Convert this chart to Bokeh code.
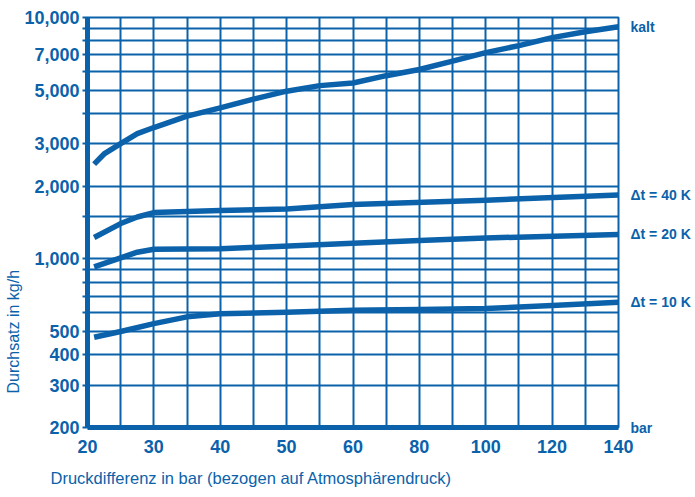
import numpy as np
from bokeh.plotting import figure
from bokeh.models import FixedTicker, Range1d, LogAxis, Title
from bokeh.embed import file_html
from bokeh.resources import INLINE

# ---- data ----
druck_kalt = [21, 22.5, 25, 27.5, 30, 35, 40, 45, 50, 55, 60, 70, 80, 90, 100, 110, 120, 130, 140]
menge_kalt = [2470, 2720, 3000, 3300, 3500, 3900, 4220, 4590, 4950, 5220, 5350, 5740, 6090, 6600, 7150, 7650, 8250, 8730, 9150]

druck_40k = [21, 25, 27.5, 30, 40, 50, 60, 100, 140]
menge_40k = [1225, 1400, 1490, 1555, 1585, 1610, 1680, 1750, 1840]

druck_20k = [21, 25, 27.5, 30, 40, 60, 80, 100, 140]
menge_20k = [926, 1010, 1065, 1095, 1100, 1160, 1190, 1220, 1262]

druck_10k = [21, 25, 30, 35, 40, 50, 60, 80, 100, 120, 140]
menge_10k = [473, 500, 539, 575, 592, 600, 612, 617, 622, 640, 660]

series_names = ["kalt", "\u0394t = 40 K", "\u0394t = 20 K", "\u0394t = 10 K"]

x_grid = [20, 25, 30, 35, 40, 45, 50, 55, 60, 70, 80, 90, 100, 110, 120, 130, 140]
x_labels = [20, 30, 40, 50, 60, 80, 100, 120, 140]
y_grid = [200, 300, 400, 500, 600, 700, 800, 900, 1000, 1500, 2000, 3000,
          4000, 5000, 6000, 7000, 8000, 9000, 10000]
y_labels = [200, 300, 400, 500, 1000, 2000, 3000, 5000, 7000, 10000]

x_unit = "bar"
x_title = "Druckdifferenz in bar (bezogen auf Atmosph\u00e4rendruck)"
y_title = "Durchsatz in kg/h"

BLUE = "#0b62aa"
FONT = "Liberation Sans"


def to_u(x):
    """Pressure axis of the original: 10 bar per cell up to 60 bar, 20 bar per cell above."""
    x = np.asarray(x, dtype=float)
    return np.where(x <= 60, x, 60 + (x - 60) / 2.0)


p = figure(width=695, height=497, output_backend="svg", toolbar_location=None,
           x_range=Range1d(20, 100), y_range=Range1d(200, 10000), y_axis_type="log",
           min_border_left=87, min_border_right=77, min_border_top=17, min_border_bottom=70)
p.background_fill_color = "white"
p.border_fill_color = "white"
p.outline_line_color = BLUE
p.outline_line_width = 2

# x axis ticks / grid
xu = [int(v) for v in to_u(x_grid)]
p.xaxis.ticker = FixedTicker(ticks=xu, minor_ticks=[])
xo = {}
for xv, uv in zip(x_grid, xu):
    xo[uv] = str(xv) if xv in x_labels else ""
p.xaxis.major_label_overrides = xo

# y axis ticks / grid
p.yaxis.ticker = FixedTicker(ticks=y_grid, minor_ticks=[])
yo = {}
for v in y_grid:
    yo[v] = f"{v:,}" if v in y_labels else ""
p.yaxis.major_label_overrides = yo

for ax in (p.xaxis, p.yaxis):
    ax.axis_line_color = BLUE
    ax.axis_line_width = 5
    ax.major_tick_line_color = BLUE
    ax.major_tick_line_width = 2
    ax.major_tick_in = 0
    ax.minor_tick_line_color = None
    ax.major_label_text_color = BLUE
    ax.major_label_text_font = FONT
    ax.major_label_text_font_style = "bold"
    ax.major_label_text_font_size = "18px"
p.xaxis.major_tick_out = 0
p.xaxis.major_label_standoff = 12
p.yaxis.major_tick_out = 5
p.yaxis.major_label_standoff = 3

for g in (p.xgrid, p.ygrid):
    g.grid_line_color = BLUE
    g.grid_line_width = 2
    g.grid_line_alpha = 1.0

series = [(druck_kalt, menge_kalt), (druck_40k, menge_40k), (druck_20k, menge_20k), (druck_10k, menge_10k)]
for xs, ys in series:
    p.line(to_u(xs), ys, line_color=BLUE, line_width=5.5, line_join="round")

# curve names at the right end of each curve, plus the unit next to the x axis
end_vals = [ys[-1] for _, ys in series] + [y_grid[0]]
end_text = series_names + [x_unit]
right = LogAxis(ticker=FixedTicker(ticks=end_vals, minor_ticks=[]),
                major_label_overrides={v: t for v, t in zip(end_vals, end_text)},
                axis_line_color=None, major_tick_line_color=None, minor_tick_line_color=None,
                major_tick_out=0, major_tick_in=0,
                major_label_standoff=12, major_label_text_color=BLUE,
                major_label_text_font=FONT, major_label_text_font_style="bold",
                major_label_text_font_size="14px")
p.add_layout(right, "right")

p.add_layout(Title(text=x_title, align="left", offset=-37, standoff=22,
                   text_color=BLUE, text_font=FONT, text_font_size="16.5px",
                   text_font_style="normal"), "below")
p.add_layout(Title(text=y_title, align="left", offset=34, standoff=0,
                   text_color=BLUE, text_font=FONT, text_font_size="16px",
                   text_font_style="normal"), "left")

open("out.html", "w").write(file_html(p, INLINE))
